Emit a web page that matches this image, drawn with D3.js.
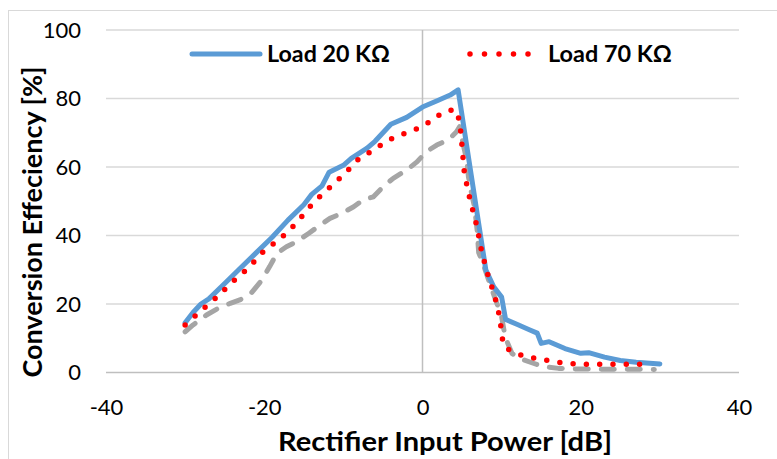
<!DOCTYPE html>
<html>
<head>
<meta charset="utf-8">
<script src="https://cdn.jsdelivr.net/npm/d3@7"></script>
<style>
  body { margin: 0; background: #fff; }
  svg text { font-family: Lato, "Open Sans", sans-serif; fill: #000; }
</style>
</head>
<body>
<svg width="777" height="459"></svg>
<script>
// Load 20 KΩ (solid blue)
var load20X = [-30, -29, -28, -27, -25, -23, -21, -19, -17, -15, -14, -12.7, -11.8, -10, -9, -7, -6, -4, -2, 0, 2, 3.5, 4.5, 8, 9, 10, 10.5, 12, 13.5, 14.5, 15, 16, 18, 20, 21, 23, 25, 27, 30];
var load20Y = [14.5, 17.5, 20, 21.5, 26, 30.5, 35, 39.5, 44.5, 49, 52, 54.5, 58.5, 60.5, 62.5, 65.5, 67.5, 72.5, 74.5, 77.5, 79.5, 81, 82.5, 30, 25, 22, 15.5, 14, 12.5, 11.5, 8.5, 9, 7, 5.6, 5.8, 4.5, 3.5, 3, 2.5];

// Load 70 KΩ (red dots)
var load70X = [-30, -28, -26, -24, -22, -20, -18, -16, -14, -12.7, -11, -9, -8, -6.5, -5, -3.5, -2, 0, 1.2, 2.6, 4.1, 4.7, 5, 5.3, 6, 6.9, 7.5, 8.5, 9, 9.8, 10, 10.3, 11.5, 13, 15, 16.5, 18, 20, 29];
var load70Y = [13.9, 18, 22, 26.5, 30.5, 35.6, 39, 43.5, 49, 52, 55.5, 60, 62.5, 64.5, 66.8, 68.8, 70, 71.8, 73.7, 76, 76.8, 73.5, 66, 58, 50.5, 42.5, 35, 26.5, 23.5, 15.8, 11, 7.5, 6, 4.6, 3.9, 3.2, 2.7, 2.4, 2.4];

// third series (grey dashes, no legend entry)
var load3X = [-30, -29, -27.3, -26, -24.3, -23, -21.6, -20.3, -19.3, -18.4, -17.2, -15.9, -14.4, -13.2, -11.7, -10.2, -8.7, -7.5, -6.2, -5, -3.7, -2, -0.7, 0.5, 1.8, 3.3, 4.3, 4.7, 5.2, 5.6, 5.8, 6.2, 6.6, 6.9, 7.1, 7.5, 8.5, 9.4, 10, 10.4, 10.6, 11.3, 12.3, 14, 15.3, 17.2, 20, 29.3];
var load3Y = [11.9, 13.9, 16.8, 18.5, 20.2, 21.3, 23.3, 27, 31, 34.8, 36.7, 38.2, 40.6, 42.6, 45, 46.5, 48.4, 50.4, 51.3, 54.2, 56.7, 59.1, 61.5, 64.5, 66.4, 68, 70.3, 71.8, 66, 62, 57.2, 52.3, 48, 41.6, 35, 32.8, 26, 20.2, 16.3, 11, 9.5, 5.6, 4.1, 2.7, 1.7, 1.2, 1, 0.9];

var xTicks = [-40, -20, 0, 20, 40];
var yTicks = [0, 20, 40, 60, 80, 100];
var legendNames = ["Load 20 KΩ", "Load 70 KΩ"];

var svg = d3.select("svg");

var x = d3.scaleLinear().domain([-40, 40]).range([106, 739]);
var y = d3.scaleLinear().domain([0, 100]).range([372.5, 30]);

// chart border
svg.append("rect")
    .attr("x", 8.5).attr("y", 10.5)
    .attr("width", 800).attr("height", 500)
    .attr("fill", "none")
    .attr("stroke", "#d9d9d9");

// horizontal gridlines
svg.append("g")
    .selectAll("line")
    .data(yTicks.filter(function(d) { return d > 0; }))
    .enter()
    .append("line")
    .attr("x1", x(-40)).attr("x2", x(40))
    .attr("y1", function(d) { return y(d); })
    .attr("y2", function(d) { return y(d); })
    .attr("stroke", "#d9d9d9")
    .attr("stroke-width", 1.3);

// axes lines crossing at origin
svg.append("line")
    .attr("x1", x(-40)).attr("x2", x(40))
    .attr("y1", y(0)).attr("y2", y(0))
    .attr("stroke", "#bfbfbf").attr("stroke-width", 1.5);
svg.append("line")
    .attr("x1", x(0)).attr("x2", x(0))
    .attr("y1", y(0)).attr("y2", y(100))
    .attr("stroke", "#bfbfbf").attr("stroke-width", 1.5);

// tick labels (plain hyphen like the original, not the unicode minus)
var plain = function(d) { return String(d); };

var yAxis = svg.append("g")
    .attr("transform", "translate(" + x(-40) + ",0)")
    .call(d3.axisLeft(y).tickValues(yTicks).tickFormat(plain).tickSize(0).tickPadding(25));
yAxis.select(".domain").remove();
yAxis.selectAll("text")
    .style("font-family", "Lato")
    .style("font-size", "22px")
    .attr("fill", "#000");

var xAxis = svg.append("g")
    .attr("transform", "translate(0," + y(0) + ")")
    .call(d3.axisBottom(x).tickValues(xTicks).tickFormat(plain).tickSize(0).tickPadding(27));
xAxis.select(".domain").remove();
xAxis.selectAll("text")
    .style("font-family", "Lato")
    .style("font-size", "22px")
    .attr("fill", "#000");

// axis titles
svg.append("text")
    .attr("x", 445).attr("y", 451)
    .attr("text-anchor", "middle")
    .attr("textLength", 334)
    .attr("lengthAdjust", "spacingAndGlyphs")
    .style("font-size", "26px")
    .style("font-weight", "bold")
    .text("Rectifier Input Power [dB]");

svg.append("text")
    .attr("transform", "translate(42,222) rotate(-90)")
    .attr("text-anchor", "middle")
    .attr("textLength", 311)
    .attr("lengthAdjust", "spacingAndGlyphs")
    .style("font-size", "26px")
    .style("font-weight", "bold")
    .text("Conversion Effeciency [%]");

// series
function toPoints(xs, ys) {
    return xs.map(function(d, i) { return [d, ys[i]]; });
}

var line = d3.line()
    .x(function(d) { return x(d[0]); })
    .y(function(d) { return y(d[1]); });

var plot = svg.append("g");

plot.append("path")
    .attr("d", line(toPoints(load3X, load3Y)))
    .attr("fill", "none")
    .attr("stroke", "#a5a5a5")
    .attr("stroke-width", 5)
    .attr("stroke-linecap", "round")
    .attr("stroke-linejoin", "round")
    .attr("stroke-dasharray", "13,13");

plot.append("path")
    .attr("d", line(toPoints(load20X, load20Y)))
    .attr("fill", "none")
    .attr("stroke", "#5b9bd5")
    .attr("stroke-width", 5)
    .attr("stroke-linecap", "round")
    .attr("stroke-linejoin", "round");

plot.append("path")
    .attr("d", line(toPoints(load70X, load70Y)))
    .attr("fill", "none")
    .attr("stroke", "#ff0000")
    .attr("stroke-width", 5.5)
    .attr("stroke-linecap", "round")
    .attr("stroke-linejoin", "round")
    .attr("stroke-dasharray", "0,13.3");

// legend
var legend = svg.append("g");
legend.append("line")
    .attr("x1", 192).attr("x2", 260)
    .attr("y1", 54).attr("y2", 54)
    .attr("stroke", "#5b9bd5")
    .attr("stroke-width", 5)
    .attr("stroke-linecap", "round");
legend.append("text")
    .attr("x", 267).attr("y", 62)
    .attr("textLength", 123)
    .attr("lengthAdjust", "spacingAndGlyphs")
    .style("font-size", "22px")
    .style("font-weight", "bold")
    .text(legendNames[0]);

legend.append("line")
    .attr("x1", 470).attr("x2", 529)
    .attr("y1", 54).attr("y2", 54)
    .attr("stroke", "#ff0000")
    .attr("stroke-width", 5.5)
    .attr("stroke-linecap", "round")
    .attr("stroke-dasharray", "0,14.5");
legend.append("text")
    .attr("x", 548).attr("y", 62)
    .attr("textLength", 124)
    .attr("lengthAdjust", "spacingAndGlyphs")
    .style("font-size", "22px")
    .style("font-weight", "bold")
    .text(legendNames[1]);
</script>
</body>
</html>
